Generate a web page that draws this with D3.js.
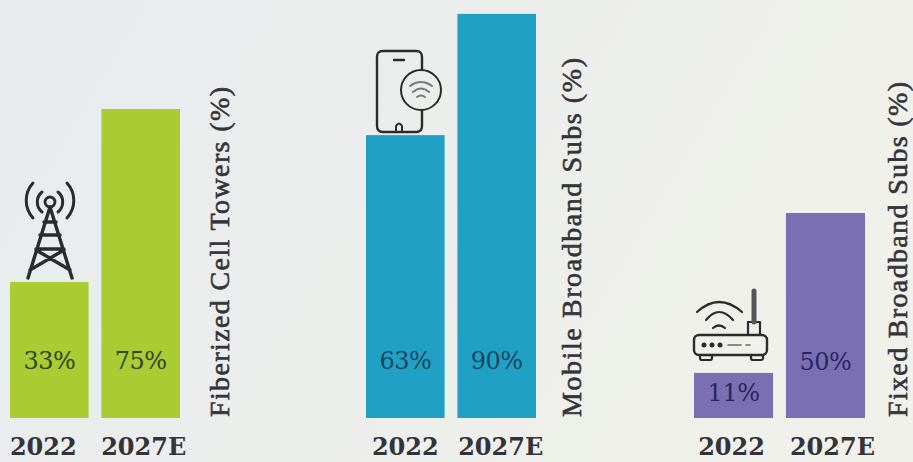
<!DOCTYPE html>
<html>
<head>
<meta charset="utf-8">
<script src="https://cdn.jsdelivr.net/npm/d3@7/dist/d3.min.js"></script>
<style>
  html, body { margin: 0; padding: 0; background: #eceeec; }
  svg { display: block; }
  text { font-family: "DejaVu Serif", "Liberation Serif", serif; }
</style>
</head>
<body>
<svg id="chart" width="913" height="462"></svg>
<script>
const periods = ["2022", "2027E"];
const towerValues = [33, 75];
const mobileValues = [63, 90];
const fixedValues = [11, 50];
const panelTitles = ["Fiberized Cell Towers (%)", "Mobile Broadband Subs (%)", "Fixed Broadband Subs (%)"];
const panelColors = ["#abcb33", "#21a0c6", "#7a6fb3"];
const labelColors = ["#2c4718", "#12475e", "#2a2560"];

const W = 913, H = 462, baseline = 418;
const svg = d3.select("#chart");

// Soft backdrop, slightly cooler on the left
const grad = svg.append("defs").append("linearGradient").attr("id", "bg")
  .attr("x1", 0).attr("x2", 1).attr("y1", 0).attr("y2", 0.3);
grad.append("stop").attr("offset", 0).attr("stop-color", "#e8ebee");
grad.append("stop").attr("offset", 1).attr("stop-color", "#f0f1ea");
svg.append("rect").attr("width", W).attr("height", H).attr("fill", "url(#bg)");

const panels = [
  { values: towerValues,  left: 10,  right: 180, pxPerPct: 4.12, titleX: 229, titleLen: 330, labelY: [361, 361], tickShift: [-6, 3] },
  { values: mobileValues, left: 366, right: 536, pxPerPct: 4.49, titleX: 581, titleLen: 359, labelY: [361, 361], tickShift: [0, 4] },
  { values: fixedValues,  left: 694, right: 865, pxPerPct: 4.1,  titleX: 907, titleLen: 335, labelY: [393, 362], tickShift: [-2, 7] }
];

panels.forEach((p, i) => {
  const x = d3.scaleBand().domain(periods).range([p.left, p.right]).paddingInner(0.14);
  const y = d3.scaleLinear().domain([0, 100]).range([baseline, baseline - p.pxPerPct * 100]);
  const g = svg.append("g");

  g.selectAll("rect").data(p.values).join("rect")
    .attr("x", (d, k) => x(periods[k]))
    .attr("width", x.bandwidth())
    .attr("y", d => y(d))
    .attr("height", d => baseline - y(d))
    .attr("fill", panelColors[i]);

  g.selectAll("text.value").data(p.values).join("text")
    .attr("class", "value")
    .attr("x", (d, k) => x(periods[k]) + x.bandwidth() / 2)
    .attr("y", (d, k) => p.labelY[k])
    .attr("text-anchor", "middle")
    .attr("dominant-baseline", "central")
    .attr("font-size", 24)
    .attr("letter-spacing", -0.5)
    .attr("fill", labelColors[i])
    .text(d => d + "%");

  // Category labels come from a bottom axis with its line and ticks removed
  const axis = g.append("g").attr("transform", `translate(0,${baseline})`)
    .call(d3.axisBottom(x).tickSize(0).tickPadding(20));
  axis.select(".domain").remove();
  axis.selectAll("text")
    .attr("font-size", 24).attr("font-weight", 700).attr("fill", "#33333a")
    .attr("dx", (d, k) => p.tickShift[k])
    .style("font-family", '"DejaVu Serif", serif');

  // Side titles: medium-weight serif stretched to each title's run length
  g.append("text")
    .attr("transform", `translate(${p.titleX},${baseline - 1}) rotate(-90)`)
    .attr("font-size", 28).attr("fill", "#33333a")
    .attr("stroke", "#33333a").attr("stroke-width", 0.6)
    .attr("textLength", p.titleLen).attr("lengthAdjust", "spacing")
    .style("font-family", '"Liberation Serif", serif')
    .text(panelTitles[i]);
});

const ink = "#2b2b2e";
const stroke = (sel, w) => sel.attr("fill", "none").attr("stroke", ink).attr("stroke-width", w)
  .attr("stroke-linecap", "round").attr("stroke-linejoin", "round");

// Cell tower
const tower = svg.append("g").attr("transform", "translate(50,202)");
stroke(tower.append("path").attr("d",
  "M0,5 L-22,76 M0,5 L22,76 M-6,20 H6 M-10,33 H10 M-14,47 H14 M-14,48 L20,68 M14,48 L-20,68"), 3.4);
stroke(tower.append("circle").attr("r", 5), 2.8);
stroke(tower.append("path").attr("d",
  "M-8,-10 A13,13 0 0 0 -8,10 M8,-10 A13,13 0 0 1 8,10 M-17,-19 A26,26 0 0 0 -17,16 M17,-19 A26,26 0 0 1 17,16"), 3);

// Phone with a wifi badge
const phone = svg.append("g").attr("transform", "translate(377,51)");
stroke(phone.append("path").attr("d",
  "M45,19 V6 Q45,0 39,0 H6 Q0,0 0,6 V75 Q0,81 6,81 H39 Q45,81 45,75 V59"), 2.4);
stroke(phone.append("path").attr("d", "M17,9 H27"), 2.4);
stroke(phone.append("path").attr("d", "M19,81 V75 Q22,70 25,75 V81"), 2);
phone.append("circle").attr("cx", 44).attr("cy", 39).attr("r", 20)
  .attr("fill", "#eceeec").attr("stroke", ink).attr("stroke-width", 2);
stroke(phone.append("path").attr("d", "M33,35 Q44,27 55,35 M36,41 Q44,34 52,41 M40,46 Q44,43 48,46"), 2)
  .attr("stroke", "#77797a");

// Router with antenna
const router = svg.append("g").attr("transform", "translate(694,287)");
stroke(router.append("rect").attr("y", 48).attr("width", 73).attr("height", 20).attr("rx", 5), 2.4);
stroke(router.append("path").attr("d", "M6,68 V71 Q6,73 8,73 H16 Q18,73 18,71 V68 M57,68 V71 Q57,73 59,73 H67 Q69,73 69,71 V68"), 2.2);
stroke(router.append("path").attr("d", "M54,48 V35 H66 V48"), 2.2);
stroke(router.append("path").attr("d", "M60,35 V4"), 5).attr("stroke", "#55565a");
stroke(router.append("path").attr("d", "M3,25 Q25,5 48,25 M12,33 Q25,17 39,33 M19,41 Q25,36 31,41"), 2.2);
router.selectAll("circle.led").data([10, 18, 26]).join("circle")
  .attr("class", "led").attr("cx", d => d).attr("cy", 58).attr("r", 2.5).attr("fill", ink);
stroke(router.append("path").attr("d", "M34,58 H47 M52,58 H56"), 1.6).attr("stroke", "#66676a");
</script>
</body>
</html>
